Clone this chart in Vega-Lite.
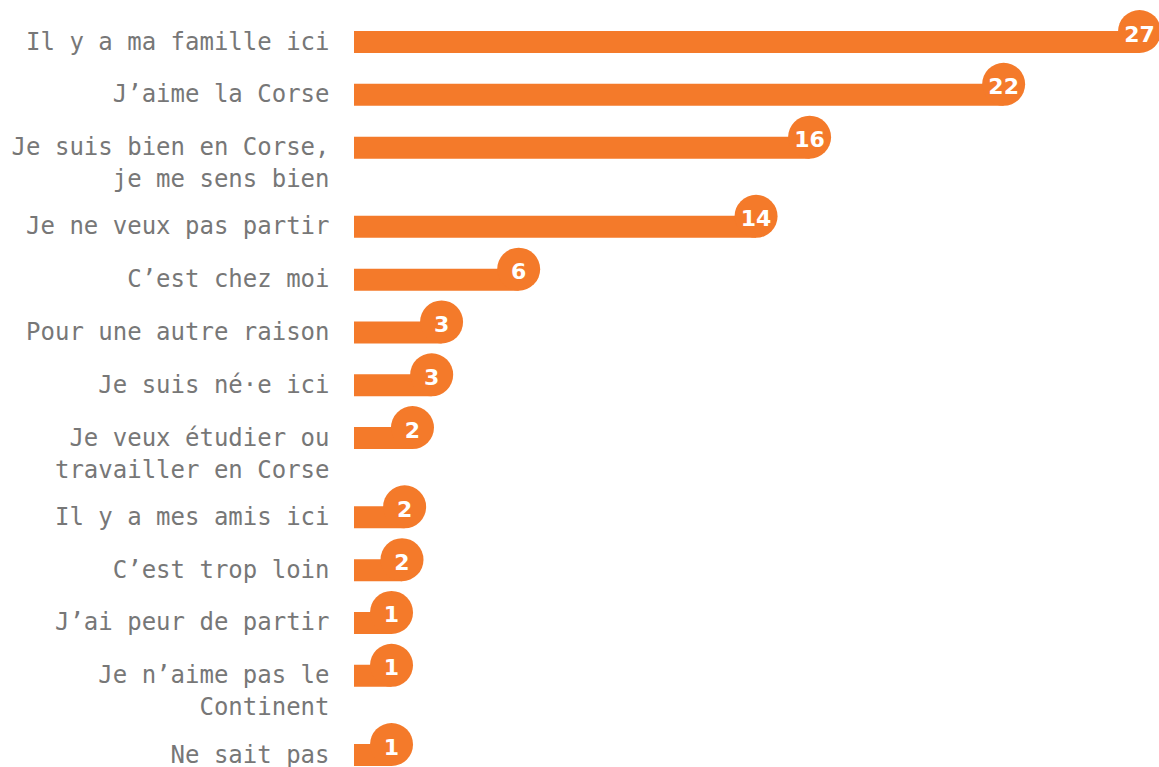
{
  "$schema": "https://vega.github.io/schema/vega-lite/v6.json",
  "autosize": {"type": "none"},
  "padding": {"left": 354, "top": 0, "right": 0, "bottom": 0},
  "width": 805,
  "height": 767,
  "background": "white",
  "config": {"view": {"stroke": null}},
  "data": {
    "values": [
      {"reason": "Il y a ma famille ici", "pct": 27.0},
      {"reason": "J’aime la Corse", "pct": 22.33},
      {"reason": "Je suis bien en Corse,|je me sens bien", "pct": 15.66},
      {"reason": "Je ne veux pas partir", "pct": 13.82},
      {"reason": "C’est chez moi", "pct": 5.66},
      {"reason": "Pour une autre raison", "pct": 3.01},
      {"reason": "Je suis né·e ici", "pct": 2.67},
      {"reason": "Je veux étudier ou|travailler en Corse", "pct": 2.01},
      {"reason": "Il y a mes amis ici", "pct": 1.74},
      {"reason": "C’est trop loin", "pct": 1.65},
      {"reason": "J’ai peur de partir", "pct": 1.29},
      {"reason": "Je n’aime pas le|Continent", "pct": 1.29},
      {"reason": "Ne sait pas", "pct": 1.29}
    ]
  },
  "encoding": {
    "y": {
      "field": "reason",
      "type": "nominal",
      "scale": {
        "type": "point",
        "range": [42, 755],
        "padding": 0,
        "domain": [
          "Il y a ma famille ici", "~1",
          "J’aime la Corse", "~2",
          "Je suis bien en Corse,|je me sens bien", "~3", "~4",
          "Je ne veux pas partir", "~5",
          "C’est chez moi", "~6",
          "Pour une autre raison", "~7",
          "Je suis né·e ici", "~8",
          "Je veux étudier ou|travailler en Corse", "~9", "~10",
          "Il y a mes amis ici", "~11",
          "C’est trop loin", "~12",
          "J’ai peur de partir", "~13",
          "Je n’aime pas le|Continent", "~14", "~15",
          "Ne sait pas"
        ]
      },
      "axis": {
        "title": null,
        "domain": false,
        "ticks": false,
        "labelPadding": 25,
        "labelFont": "DejaVu Sans Mono",
        "labelFontSize": 24,
        "labelColor": "#777777",
        "labelBaseline": "alphabetic",
        "labelOffset": 7,
        "labelLineHeight": 32,
        "labelLimit": 400,
        "labelOverlap": false,
        "labelExpr": "indexof(datum.value, '~') == 0 ? '' : split(datum.value, '|')"
      }
    },
    "x": {
      "field": "pct",
      "type": "quantitative",
      "scale": {"domain": [0, 27.67], "nice": false, "zero": true},
      "axis": null
    }
  },
  "layer": [
    {"mark": {"type": "bar", "height": 22, "color": "#f47a2a", "cornerRadius": 0}},
    {"mark": {"type": "point", "shape": "circle", "filled": true, "opacity": 1, "size": 1849, "color": "#f47a2a", "yOffset": -10.5}},
    {
      "mark": {"type": "text", "align": "center", "baseline": "middle", "font": "DejaVu Sans", "fontSize": 22, "fontWeight": "bold", "color": "white", "yOffset": -7.5},
      "encoding": {"text": {"field": "pct", "type": "quantitative", "format": ".0f"}}
    }
  ]
}
